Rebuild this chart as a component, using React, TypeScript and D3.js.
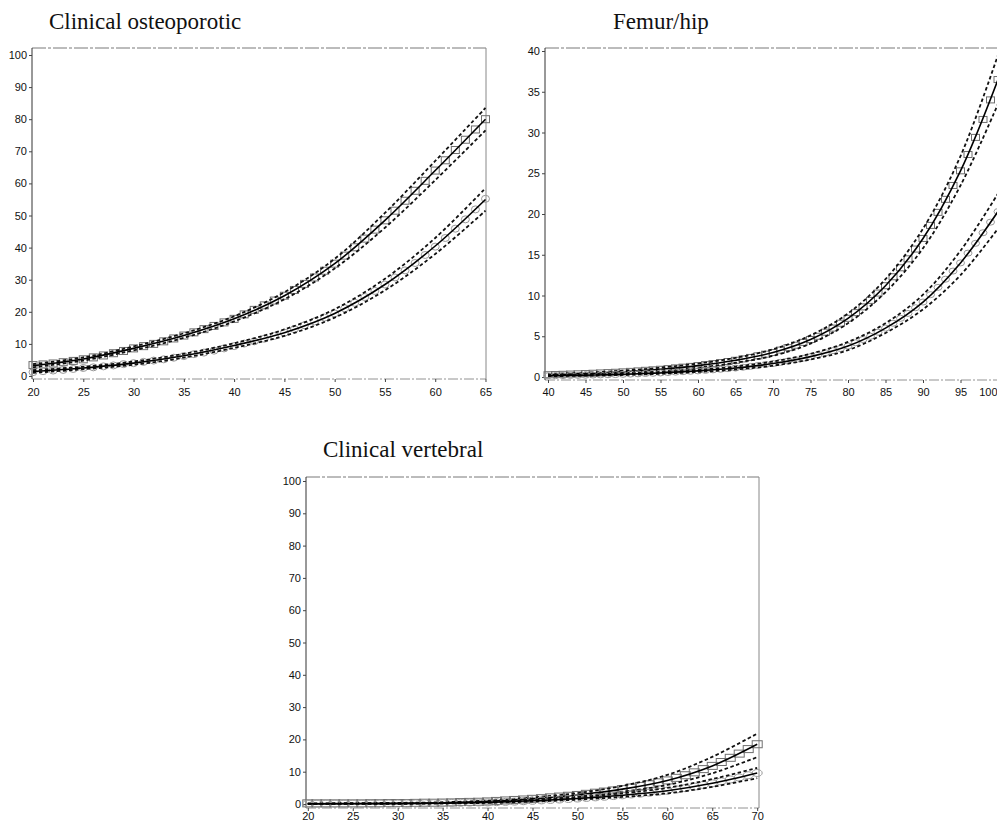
import React, { useEffect, useRef } from "react";
import * as d3 from "d3";

// ---- Clinical osteoporotic (ages 20-65) ----
const coFitAges = [20, 25, 30, 35, 40, 45, 50, 55, 60, 65];
const coUpperFit = [3.2, 5.3, 8.6, 12.6, 17.8, 25, 35, 48.5, 64, 80];
const coUpperHi = [3.7, 5.8, 9.2, 13.3, 18.6, 26.1, 36.5, 50.8, 67, 83.5];
const coUpperLo = [2.7, 4.8, 8.0, 11.9, 17.0, 23.9, 33.5, 46.2, 61, 76.5];
const coLowerFit = [1.4, 2.5, 4.0, 6.3, 9.5, 13.5, 19.5, 28.5, 40.5, 55];
const coLowerHi = [1.8, 2.9, 4.5, 6.9, 10.2, 14.5, 20.8, 30.3, 43, 58.5];
const coLowerLo = [1.0, 2.1, 3.5, 5.7, 8.8, 12.5, 18.2, 26.7, 38, 51.5];
const coObsAges = d3.range(20, 66);
const coUpperObs = [
  3.4, 3.6, 3.9, 4.3, 4.7, 5.2, 5.8, 6.4, 7.1, 7.8, 8.6, 9.3, 10.0, 10.8, 11.7,
  12.6, 13.6, 14.6, 15.6, 16.7, 17.8, 19.2, 20.6, 22.0, 23.5,
  25.0, 26.8, 28.7, 30.7, 32.8, 35.0, 37.5, 40.1, 42.8, 45.6, 48.5, 51.5, 54.6, 57.7,
  60.8, 64.0, 67.2, 70.4, 73.6, 76.8, 80.0,
];
const coLowerObs = [
  1.2, 1.5, 1.7, 1.9, 2.2, 2.5, 2.7, 3.0, 3.3, 3.7, 4.0, 4.4, 4.8, 5.2, 5.7, 6.2, 6.8,
  7.3, 7.9, 8.6, 9.3, 10.1, 10.8, 11.6, 12.5,
  13.5, 14.6, 15.8, 17.0, 18.2, 19.5, 21.1, 22.8, 24.6, 26.5, 28.5, 30.7, 32.9, 35.2,
  37.7, 40.3, 43.0, 45.9, 48.8, 51.9, 55.2,
];

// ---- Femur/hip (ages 40-100) ----
const fhFitAges = [40, 45, 50, 55, 60, 65, 70, 75, 80, 85, 90, 95, 100];
const fhUpperFit = [0.28, 0.42, 0.63, 0.95, 1.4, 2.05, 3.0, 4.6, 7.2, 11.2, 17.0, 25.3, 36.5];
const fhUpperHi = [0.38, 0.53, 0.78, 1.15, 1.65, 2.35, 3.4, 5.1, 7.8, 12.0, 18.2, 27.1, 39.5];
const fhUpperLo = [0.18, 0.31, 0.48, 0.75, 1.15, 1.75, 2.6, 4.1, 6.6, 10.4, 15.8, 23.5, 33.5];
const fhLowerFit = [0.15, 0.22, 0.33, 0.5, 0.75, 1.1, 1.65, 2.5, 3.8, 6.0, 9.2, 14.0, 20.3];
const fhLowerHi = [0.2, 0.28, 0.41, 0.6, 0.88, 1.28, 1.9, 2.85, 4.3, 6.6, 10.1, 15.5, 22.5];
const fhLowerLo = [0.1, 0.16, 0.25, 0.4, 0.62, 0.92, 1.4, 2.15, 3.3, 5.4, 8.3, 12.5, 18.2];
const fhObsAges = d3.range(40, 101);
const fhUpperObs = [
  0.28, 0.3, 0.33, 0.36, 0.39, 0.42, 0.46, 0.5, 0.54, 0.58, 0.63, 0.69, 0.75, 0.82, 0.88,
  0.95, 1.03, 1.12, 1.21, 1.3,
  1.4, 1.52, 1.64, 1.77, 1.9, 2.05, 2.22, 2.4, 2.6, 2.8, 3.0, 3.3, 3.6, 3.9, 4.25, 4.6,
  5.0, 5.5, 6.0, 6.6,
  7.2, 7.9, 8.6, 9.4, 10.3, 11.2, 12.3, 13.4, 14.5, 15.7, 17.0, 18.6, 20.2, 21.8, 23.5,
  25.3, 27.3, 29.4, 31.6, 34.0, 36.5,
];
const fhLowerObs = [
  0.15, 0.16, 0.17, 0.19, 0.2, 0.22, 0.24, 0.26, 0.28, 0.3, 0.33, 0.36, 0.39, 0.43, 0.46,
  0.5, 0.55, 0.6, 0.65, 0.7,
  0.75, 0.81, 0.88, 0.95, 1.02, 1.1, 1.2, 1.3, 1.42, 1.54, 1.65, 1.8, 1.95, 2.12, 2.3,
  2.5, 2.74, 2.98, 3.24, 3.5,
  3.8, 4.2, 4.6, 5.0, 5.5, 6.0, 6.6, 7.2, 7.8, 8.5, 9.2, 10.1, 11.0, 12.0, 13.0, 14.0,
  15.2, 16.4, 17.7, 19.0, 20.3,
];

// ---- Clinical vertebral (ages 20-70) ----
const cvFitAges = [20, 25, 30, 35, 40, 45, 50, 55, 60, 65, 70];
const cvUpperFit = [0.1, 0.15, 0.25, 0.4, 0.8, 1.6, 2.8, 4.6, 7.3, 11.8, 18.5];
const cvUpperHi = [0.2, 0.25, 0.35, 0.55, 1.05, 2.0, 3.4, 5.6, 9.0, 14.6, 21.8];
const cvUpperLo = [0.05, 0.08, 0.15, 0.28, 0.6, 1.25, 2.3, 3.8, 5.9, 9.5, 14.5];
const cvLowerFit = [0.05, 0.08, 0.12, 0.25, 0.5, 1.0, 1.7, 2.7, 4.1, 6.4, 9.6];
const cvLowerHi = [0.1, 0.12, 0.2, 0.35, 0.7, 1.3, 2.1, 3.3, 5.0, 7.7, 11.2];
const cvLowerLo = [0.02, 0.04, 0.07, 0.15, 0.35, 0.75, 1.35, 2.2, 3.3, 5.3, 8.0];
const cvObsAges = d3.range(20, 71);
const cvUpperObs = [
  0.2, 0.2, 0.2, 0.2, 0.2, 0.2, 0.2, 0.25, 0.25, 0.3, 0.3, 0.3, 0.35, 0.4, 0.4, 0.45,
  0.5, 0.6, 0.65, 0.7,
  0.8, 0.95, 1.1, 1.25, 1.4, 1.6, 1.8, 2.05, 2.3, 2.55, 2.8, 3.15, 3.5, 3.85, 4.2, 4.6,
  5.1, 5.6, 6.1, 6.7, 7.3, 8.1, 8.9, 9.8, 10.8, 11.8, 13.0, 14.3, 15.6, 17.0, 18.5,
];
const cvLowerObs = [
  0.1, 0.1, 0.1, 0.1, 0.1, 0.1, 0.1, 0.1, 0.15, 0.15, 0.15, 0.2, 0.2, 0.25, 0.25, 0.3,
  0.35, 0.4, 0.45, 0.48,
  0.5, 0.58, 0.66, 0.75, 0.87, 1.0, 1.13, 1.27, 1.4, 1.55, 1.7, 1.88, 2.06, 2.25, 2.46,
  2.7, 2.96, 3.22, 3.5, 3.8, 4.1, 4.5, 4.9, 5.4, 5.9, 6.4, 7.0, 7.6, 8.2, 8.9, 9.6,
];

const panels = [
  {
    title: "Clinical osteoporotic", titleX: 49, titleY: 29,
    xDomain: [19.9, 65.05], left: 32, right: 486,
    yMax: 100, y0: 376, yTop: 55, frameTop: 48, frameBottom: 379,
    xTicks: d3.range(20, 66, 5), yTicks: d3.range(0, 101, 10), xPad: 6,
    fitAges: coFitAges, obsAges: coObsAges,
    groups: [
      { fit: coUpperFit, hi: coUpperHi, lo: coUpperLo, obs: coUpperObs, shape: "square" },
      { fit: coLowerFit, hi: coLowerHi, lo: coLowerLo, obs: coLowerObs, shape: "circle" },
    ],
    mw: 8, mh: 7,
  },
  {
    title: "Femur/hip", titleX: 613, titleY: 29,
    xDomain: [39.6, 100], left: 545, right: 998,
    yMax: 40, y0: 377, yTop: 51, frameTop: 48, frameBottom: 380,
    xTicks: d3.range(40, 101, 5), yTicks: d3.range(0, 41, 5), xPad: 5,
    fitAges: fhFitAges, obsAges: fhObsAges,
    groups: [
      { fit: fhUpperFit, hi: fhUpperHi, lo: fhUpperLo, obs: fhUpperObs, shape: "square" },
      { fit: fhLowerFit, hi: fhLowerHi, lo: fhLowerLo, obs: fhLowerObs, shape: "circle" },
    ],
    mw: 8, mh: 6,
  },
  {
    title: "Clinical vertebral", titleX: 323, titleY: 457,
    xDomain: [19.8, 70.2], left: 306, right: 759,
    yMax: 100, y0: 804, yTop: 481, frameTop: 477, frameBottom: 808,
    xTicks: d3.range(20, 71, 5), yTicks: d3.range(0, 101, 10), xPad: 1,
    fitAges: cvFitAges, obsAges: cvObsAges,
    groups: [
      { fit: cvUpperFit, hi: cvUpperHi, lo: cvUpperLo, obs: cvUpperObs, shape: "square" },
      { fit: cvLowerFit, hi: cvLowerHi, lo: cvLowerLo, obs: cvLowerObs, shape: "circle" },
    ],
    mw: 10, mh: 7,
  },
];

function drawPanel(svg: any, p: any) {
  const x = d3.scaleLinear().domain(p.xDomain).range([p.left, p.right]);
  const y = d3.scaleLinear().domain([0, p.yMax]).range([p.y0, p.yTop]);
  const g = svg.append("g");

  g.append("text")
    .attr("x", p.titleX)
    .attr("y", p.titleY)
    .style("font-family", "'Liberation Serif', 'Times New Roman', serif")
    .style("font-size", "23px")
    .attr("fill", "#111")
    .text(p.title);

  // frame: top / right faint, bottom dashed, left solid
  g.append("line")
    .attr("x1", p.left).attr("x2", p.right)
    .attr("y1", p.frameTop).attr("y2", p.frameTop)
    .attr("stroke", "#555").attr("stroke-width", 0.8)
    .attr("stroke-dasharray", "14,2,3,2");
  g.append("line")
    .attr("x1", p.right).attr("x2", p.right)
    .attr("y1", p.frameTop).attr("y2", p.frameBottom)
    .attr("stroke", "#888").attr("stroke-width", 1);
  g.append("line")
    .attr("x1", p.left).attr("x2", p.right)
    .attr("y1", p.frameBottom).attr("y2", p.frameBottom)
    .attr("stroke", "#777").attr("stroke-width", 0.8)
    .attr("stroke-dasharray", "10,2,2,2");
  g.append("line")
    .attr("x1", p.left).attr("x2", p.left)
    .attr("y1", p.frameTop).attr("y2", p.frameBottom)
    .attr("stroke", "#333").attr("stroke-width", 1);

  const yAxis = g.append("g")
    .attr("transform", `translate(${p.left},0)`)
    .call(d3.axisLeft(y).tickValues(p.yTicks).tickSize(3).tickPadding(2));
  const xAxis = g.append("g")
    .attr("transform", `translate(0,${p.frameBottom})`)
    .call(d3.axisBottom(x).tickValues(p.xTicks).tickSize(3).tickPadding(p.xPad));
  [yAxis, xAxis].forEach(a => {
    a.select(".domain").remove();
    a.selectAll("line").attr("stroke", "#444");
    a.selectAll("text")
      .style("font-family", "'Liberation Sans', Arial, sans-serif")
      .style("font-size", "11px")
      .attr("fill", "#111");
  });
  // keep the last x label inside the picture
  xAxis.selectAll(".tick text")
    .filter((d: number) => x(d) + 8 > 997)
    .attr("text-anchor", "end")
    .attr("x", (d: number) => 997 - x(d));

  const line = (vals: number[]) =>
    d3.line<number>()
      .x((d, i) => x(p.fitAges[i]))
      .y(d => y(d))
      .curve(d3.curveCatmullRom.alpha(0.5))(vals);

  p.groups.forEach((grp: any) => {
    // observed markers
    const obs = grp.obs.map((v: number, i: number) => ({ a: p.obsAges[i], v }));
    if (grp.shape === "square") {
      g.selectAll(null)
        .data(obs)
        .enter()
        .append("rect")
        .attr("x", (d: any) => x(d.a) - p.mw / 2)
        .attr("y", (d: any) => y(d.v) - p.mh / 2)
        .attr("width", p.mw)
        .attr("height", p.mh)
        .attr("fill", "none")
        .attr("stroke", "#6e6e6e")
        .attr("stroke-width", 1);
    } else {
      g.selectAll(null)
        .data(obs)
        .enter()
        .append("ellipse")
        .attr("cx", (d: any) => x(d.a))
        .attr("cy", (d: any) => y(d.v))
        .attr("rx", p.mw / 2)
        .attr("ry", p.mh / 2)
        .attr("fill", "none")
        .attr("stroke", "#999")
        .attr("stroke-width", 1);
    }

    // confidence bands
    [grp.hi, grp.lo].forEach((b: number[]) => {
      g.append("path")
        .attr("d", line(b))
        .attr("fill", "none")
        .attr("stroke", "#111")
        .attr("stroke-width", 1.8)
        .attr("stroke-dasharray", "3.5,2.5");
    });

    // fitted curve
    g.append("path")
      .attr("d", line(grp.fit))
      .attr("fill", "none")
      .attr("stroke", "#000")
      .attr("stroke-width", 1.6);
  });
}

export default function App() {
  const ref = useRef<SVGSVGElement>(null);

  useEffect(() => {
    const svg = d3.select(ref.current);
    svg.selectAll("*").remove();
    panels.forEach(p => drawPanel(svg, p));
  }, []);

  return (
    <svg
      ref={ref}
      width={997}
      height={823}
      style={{ position: "absolute", left: 0, top: 0, background: "#fff" }}
    />
  );
}
